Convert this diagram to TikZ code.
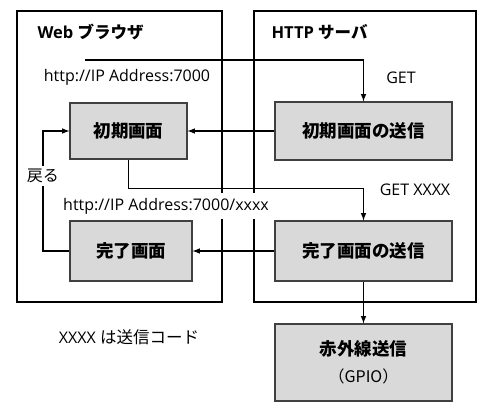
\documentclass[tikz,border=0pt]{standalone}
\usepackage{fontspec}
\setmainfont{Open Sans}
\newfontfamily\jp{Noto Sans CJK JP}
\usepackage{tikz}
\usepackage{xcolor}
\definecolor{boxgray}{HTML}{D9D9D9}
\definecolor{edgegray}{HTML}{404040}
\tikzset{
  >=latex,
}
\tikzstyle{every node}=[font=\fontsize{16}{18}\selectfont]
\tikzstyle{frame}=[draw,line width=2pt,minimum width=205,minimum height=291,inner sep=0pt]
\tikzstyle{screen}=[draw=edgegray,line width=1.2pt,fill=boxgray,inner sep=0pt,
  font=\jp\fontsize{17.5}{20}\selectfont\bfseries]
\tikzstyle{flow}=[line width=1.5pt,->]
\tikzstyle{title}=[anchor=west,font=\fontsize{16.5}{18}\selectfont\bfseries]

\begin{document}
\begin{tikzpicture}[x=1pt,y=-1pt]
    \useasboundingbox (0,0) rectangle (491,418);
    \node[frame] (web) at (119.5,156.5) {};
    \node[frame,minimum width=222] (server) at (365,156.5) {};
    \node[title] (webtitle) at (34,32) {Web {\jp ブラウザ}};
    \node[title] (servertitle) at (268,32) {HTTP {\jp サーバ}};

    \node[screen,minimum width=117,minimum height=56] (init) at (128.5,131) {初期画面};
    \node[screen,minimum width=122,minimum height=60] (done) at (131,251) {完了画面};
    \node[screen,minimum width=177,minimum height=58] (sendinit) at (363.5,131) {初期画面の送信};
    \node[screen,minimum width=177,minimum height=60] (senddone) at (363.5,251) {完了画面の送信};
    \node[screen,minimum width=177,minimum height=77,align=center] (ir) at (363.5,362.5)
    {赤外線送信\\[7pt]{\mdseries\fontsize{16}{18}\selectfont （GPIO）}};

    \node (url) at (127,77) {http://IP Address:7000};
    \node (get) at (401,78) {GET};
    \node (getx) at (415,190) {GET XXXX};
    \node[fill=white,inner xsep=3pt,inner ysep=5pt] (urlx) at (166,206)
    {http://IP Address:7000/xxxx};
    \node (note) at (129,337) {XXXX {\jp\fontsize{16.5}{18}\selectfont は送信コード}};
    \node[inner sep=3pt,font=\jp\fontsize{16}{18}\selectfont] (back) at (43,176) {戻る};

    \coordinate (start) at (85,60);
    \draw[flow] (start) -| (sendinit.north);
    \draw[flow] (sendinit) -- (init);
    \draw[flow] (init.south) -- ++(0,29) -| (senddone.north);
    \draw[flow] (senddone) -- (done);
    \draw[line width=1.5pt] (done.west) -| (back.south);
    \draw[flow] (back.north) |- (init.west);
    \draw[flow] (senddone) -- (ir);
  \end{tikzpicture}
\end{document}
